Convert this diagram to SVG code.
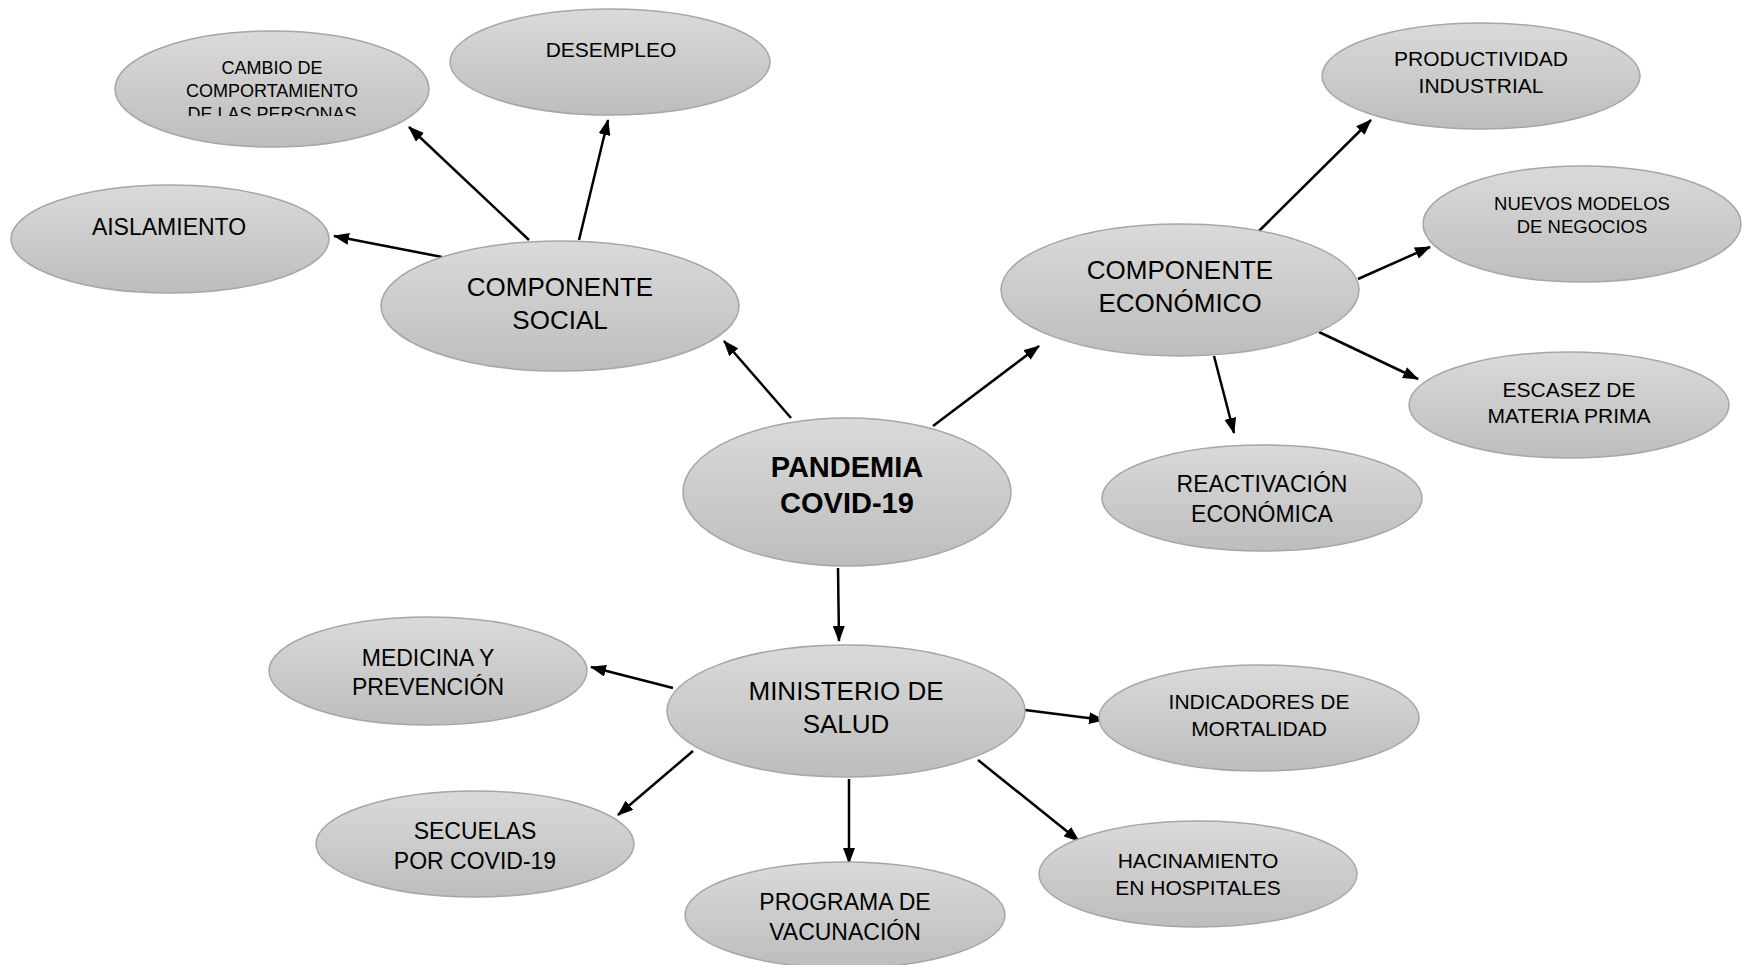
<svg xmlns="http://www.w3.org/2000/svg" width="1742" height="965" viewBox="0 0 1742 965">
<defs>
<linearGradient id="g" x1="0" y1="0" x2="0" y2="1">
<stop offset="0" stop-color="#dadada"/>
<stop offset="1" stop-color="#bdbdbd"/>
</linearGradient>
<marker id="ah" markerWidth="16" markerHeight="12" refX="15" refY="6" orient="auto" markerUnits="userSpaceOnUse">
<path d="M0,0 L16,6 L0,12 Z" fill="#000"/>
</marker>
<clipPath id="clipCambio"><rect x="100" y="30" width="350" height="86"/></clipPath>
</defs>
<style>
.n ellipse{fill:url(#g);stroke:#a6a6a6;stroke-width:1.5}
.n text{font-family:"Liberation Sans",Arial,sans-serif;fill:#000;text-anchor:middle}
.c line{stroke:#000;stroke-width:2.5;marker-end:url(#ah)}
</style>
<rect width="1742" height="965" fill="#fff"/>
<g class="c" id="connectors">
<line x1="791" y1="418" x2="724" y2="341"/>
<line x1="933" y1="426" x2="1039" y2="346"/>
<line x1="838" y1="568" x2="839" y2="641"/>
<line x1="442" y1="257" x2="334" y2="236"/>
<line x1="529" y1="240" x2="409" y2="127"/>
<line x1="579" y1="240" x2="608" y2="120"/>
<line x1="1258" y1="232" x2="1371" y2="120"/>
<line x1="1358" y1="279" x2="1430" y2="247"/>
<line x1="1319" y1="332" x2="1418" y2="379"/>
<line x1="1214" y1="356" x2="1234" y2="433"/>
<line x1="673" y1="688" x2="591" y2="667"/>
<line x1="1025" y1="710" x2="1104" y2="720"/>
<line x1="693" y1="751" x2="618" y2="815"/>
<line x1="849" y1="779" x2="849" y2="863"/>
<line x1="978" y1="760" x2="1079" y2="841"/>
</g>
<g class="n" id="cambio">
<ellipse cx="272" cy="89" rx="157" ry="58"/>
<g clip-path="url(#clipCambio)" font-size="18">
<text x="272" y="74" font-size="18">CAMBIO DE</text>
<text x="272" y="97" font-size="18">COMPORTAMIENTO</text>
<text x="272" y="120" font-size="18">DE LAS PERSONAS</text>
</g>
</g>
<g class="n" id="desempleo">
<ellipse cx="610" cy="62" rx="160" ry="53"/>
<text x="611" y="57" font-size="21">DESEMPLEO</text>
</g>
<g class="n" id="aislamiento">
<ellipse cx="170" cy="239" rx="159" ry="54"/>
<text x="169" y="235" font-size="23">AISLAMIENTO</text>
</g>
<g class="n" id="social">
<ellipse cx="560" cy="306" rx="179" ry="65"/>
<text x="560" y="296" font-size="26">COMPONENTE</text>
<text x="560" y="329" font-size="26">SOCIAL</text>
</g>
<g class="n" id="pandemia">
<ellipse cx="847" cy="492" rx="164" ry="74"/>
<text x="847" y="477" font-size="29" font-weight="bold">PANDEMIA</text>
<text x="847" y="513" font-size="29" font-weight="bold">COVID-19</text>
</g>
<g class="n" id="economico">
<ellipse cx="1180" cy="290" rx="179" ry="66"/>
<text x="1180" y="279" font-size="26">COMPONENTE</text>
<text x="1180" y="312" font-size="26">ECONÓMICO</text>
</g>
<g class="n" id="productividad">
<ellipse cx="1481" cy="76" rx="159" ry="53"/>
<text x="1481" y="66" font-size="21">PRODUCTIVIDAD</text>
<text x="1481" y="93" font-size="21">INDUSTRIAL</text>
</g>
<g class="n" id="nuevos">
<ellipse cx="1582" cy="224" rx="159" ry="58"/>
<text x="1582" y="210" font-size="18.5">NUEVOS MODELOS</text>
<text x="1582" y="233" font-size="18.5">DE NEGOCIOS</text>
</g>
<g class="n" id="escasez">
<ellipse cx="1569" cy="405" rx="160" ry="53"/>
<text x="1569" y="397" font-size="21">ESCASEZ DE</text>
<text x="1569" y="423" font-size="21">MATERIA PRIMA</text>
</g>
<g class="n" id="reactivacion">
<ellipse cx="1262" cy="498" rx="160" ry="53"/>
<text x="1262" y="492" font-size="23">REACTIVACIÓN</text>
<text x="1262" y="522" font-size="23">ECONÓMICA</text>
</g>
<g class="n" id="ministerio">
<ellipse cx="846" cy="711" rx="179" ry="66"/>
<text x="846" y="700" font-size="26">MINISTERIO DE</text>
<text x="846" y="733" font-size="26">SALUD</text>
</g>
<g class="n" id="medicina">
<ellipse cx="428" cy="671" rx="159" ry="54"/>
<text x="428" y="666" font-size="23">MEDICINA Y</text>
<text x="428" y="695" font-size="23">PREVENCIÓN</text>
</g>
<g class="n" id="indicadores">
<ellipse cx="1259" cy="718" rx="160" ry="53"/>
<text x="1259" y="709" font-size="21">INDICADORES DE</text>
<text x="1259" y="736" font-size="21">MORTALIDAD</text>
</g>
<g class="n" id="secuelas">
<ellipse cx="475" cy="844" rx="159" ry="53"/>
<text x="475" y="839" font-size="23">SECUELAS</text>
<text x="475" y="869" font-size="23">POR COVID-19</text>
</g>
<g class="n" id="hacinamiento">
<ellipse cx="1198" cy="874" rx="159" ry="53"/>
<text x="1198" y="868" font-size="21">HACINAMIENTO</text>
<text x="1198" y="895" font-size="21">EN HOSPITALES</text>
</g>
<g class="n" id="programa">
<ellipse cx="845" cy="915" rx="160" ry="53"/>
<text x="845" y="910" font-size="23">PROGRAMA DE</text>
<text x="845" y="940" font-size="23">VACUNACIÓN</text>
</g>
</svg>
